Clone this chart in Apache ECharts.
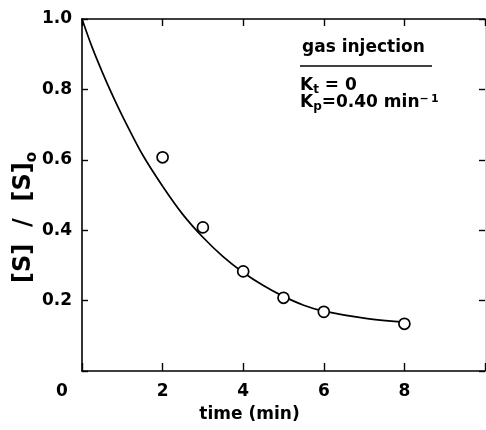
<!DOCTYPE html>
<html>
<head>
<meta charset="utf-8">
<script src="https://cdn.jsdelivr.net/npm/echarts@6/dist/echarts.min.js"></script>
<style>
html,body{margin:0;padding:0;background:#fff;}
#c{width:486px;height:430px;}
</style>
</head>
<body>
<div id="c"></div>
<script>
// measured points: time (min) vs [S]/[S]o
const pointTimes = [2, 3, 4, 5, 6, 8];
const pointValues = [0.607, 0.408, 0.283, 0.208, 0.168, 0.134];
// fitted curve
const curveTimes = [0, 0.25, 0.5, 0.75, 1, 1.5, 2, 2.5, 3, 3.5, 4, 4.5, 5, 5.5, 6, 7, 8];
const curveValues = [1.0, 0.92, 0.85, 0.785, 0.725, 0.615, 0.525, 0.445, 0.38, 0.325, 0.28, 0.243, 0.212, 0.187, 0.17, 0.15, 0.138];
const xTicks = [0, 2, 4, 6, 8];
const yTicks = [0.2, 0.4, 0.6, 0.8, 1.0];

const FONT = 'DejaVu Sans';
const chart = echarts.init(document.getElementById('c'), null, {renderer: 'canvas'});

function axisBase(lineColor, lineWidth, tickLen) {
  return {
    axisLine: {show: true, onZero: false, lineStyle: {color: lineColor, width: lineWidth}},
    axisTick: {show: true, inside: true, length: tickLen, lineStyle: {color: '#000', width: 1.4}},
    splitLine: {show: false}
  };
}
const labelFont = {color: '#000', fontFamily: FONT, fontWeight: 'bold', fontSize: 17};

chart.setOption({
  animation: false,
  backgroundColor: '#fff',
  grid: {left: 82, right: 1, top: 19, bottom: 59, containLabel: false, outerBoundsMode: 'none'},
  xAxis: [
    Object.assign(axisBase('#000', 1.6, 8), {
      type: 'value', min: 0, max: 10, interval: 2, position: 'bottom',
      axisLabel: Object.assign({}, labelFont, {
        margin: 12,
        formatter: function (v) {
          if (xTicks.indexOf(v) < 0) return '';
          if (v === 0) return '{z|0}';
          return String(v);
        },
        rich: {z: Object.assign({}, labelFont, {padding: [0, 40, 0, 0]})}
      }),
      name: 'time (min)', nameLocation: 'middle', nameGap: 35, nameMoveOverlap: false,
      nameTextStyle: Object.assign({}, labelFont, {padding: [0, 68, 0, 0]})
    }),
    Object.assign(axisBase('#000', 1.6, 7), {
      type: 'value', min: 0, max: 10, interval: 2, position: 'top',
      axisLabel: {show: false}
    })
  ],
  yAxis: [
    Object.assign(axisBase('#000', 1.6, 6), {
      type: 'value', min: 0, max: 1, interval: 0.2, position: 'left',
      axisLabel: Object.assign({}, labelFont, {
        margin: 10,
        formatter: function (v) {
          const r = Math.round(v * 10) / 10;
          return yTicks.some(t => Math.abs(t - r) < 1e-9) ? r.toFixed(1) : '';
        }
      }),
      name: '{a|[S]  /  [S]}{b|o}', nameLocation: 'middle', nameGap: 42, nameMoveOverlap: false,
      nameTextStyle: {
        padding: [0, 45, 0, 0],
        rich: {
          a: {color: '#000', fontFamily: FONT, fontWeight: 'bold', fontSize: 24, lineHeight: 28, verticalAlign: 'top'},
          b: {color: '#000', fontFamily: FONT, fontWeight: 'bold', fontSize: 15, lineHeight: 15, verticalAlign: 'bottom'}
        }
      }
    }),
    Object.assign(axisBase('#cfcfcf', 1, 6), {
      type: 'value', min: 0, max: 1, interval: 0.2, position: 'right',
      axisLabel: {show: false}
    })
  ],
  graphic: [
    {type: 'text', left: 302, top: 39,
     style: {text: 'gas injection', fill: '#000', font: 'bold 17px "DejaVu Sans"'}},
    {type: 'line', shape: {x1: 300, y1: 66, x2: 432, y2: 66}, style: {stroke: '#000', lineWidth: 1.6}},
    {type: 'text', left: 300, top: 77,
     style: {text: '{k|K}{s|t}{k| = 0}', rich: {
       k: {fill: '#000', fontFamily: FONT, fontWeight: 'bold', fontSize: 17, lineHeight: 19, verticalAlign: 'top'},
       s: {fill: '#000', fontFamily: FONT, fontWeight: 'bold', fontSize: 12, lineHeight: 12, verticalAlign: 'bottom'}
     }}},
    {type: 'text', left: 300, top: 94,
     style: {text: '{k|K}{s|p}{k|=0.40 min}{u|\u2212\u20091}', rich: {
       k: {fill: '#000', fontFamily: FONT, fontWeight: 'bold', fontSize: 17, lineHeight: 19, verticalAlign: 'top'},
       s: {fill: '#000', fontFamily: FONT, fontWeight: 'bold', fontSize: 12, lineHeight: 12, verticalAlign: 'bottom'},
       u: {fill: '#000', fontFamily: FONT, fontWeight: 'bold', fontSize: 11, lineHeight: 11, verticalAlign: 'top'}
     }}}
  ],
  series: [
    {
      type: 'line', xAxisIndex: 0, yAxisIndex: 0,
      data: curveTimes.map((t, i) => [t, curveValues[i]]),
      smooth: 0.3, showSymbol: false, symbol: 'none',
      lineStyle: {color: '#000', width: 1.7}, z: 2
    },
    {
      type: 'scatter', xAxisIndex: 0, yAxisIndex: 0,
      data: pointTimes.map((t, i) => [t, pointValues[i]]),
      symbol: 'circle', symbolSize: 11,
      itemStyle: {color: '#fff', borderColor: '#000', borderWidth: 1.7, opacity: 1}, z: 3
    }
  ]
});
</script>
</body>
</html>
